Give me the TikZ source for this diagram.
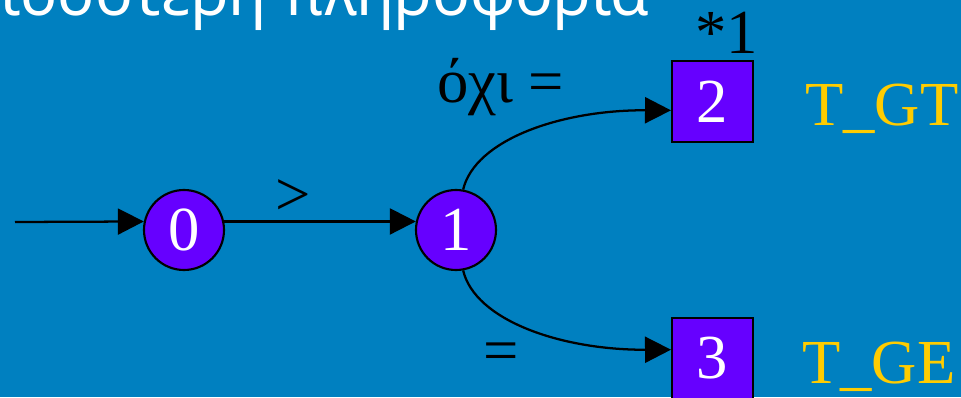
\documentclass[tikz,border=0pt]{standalone}
\usepackage{fontspec}
\setmainfont{Liberation Serif}
\newfontfamily\titlefont{Noto Sans}
\usetikzlibrary{arrows.meta,calc}
\definecolor{bg}{RGB}{0,128,192}
\definecolor{nodefill}{RGB}{102,0,255}
\definecolor{ylw}{RGB}{255,204,0}
\begin{document}
\begin{tikzpicture}[x=0.75pt,y=-0.75pt,
  big/.style={font=\fontsize{47}{50}\selectfont},
  state/.style={circle,draw=black,line width=1.6pt,fill=nodefill,minimum size=60pt,inner sep=0pt,text=white,big},
  final/.style={rectangle,draw=black,line width=1.5pt,fill=nodefill,minimum size=60.75pt,inner sep=0pt,text=white,big},
  edge/.style={line width=1.7pt,-{Triangle[length=19.5pt,width=19.5pt]}},
  lbl/.style={text=black,big,inner sep=0pt},
  tag/.style={text=ylw,big,inner sep=0pt,anchor=base west}]
\path[use as bounding box] (0,0) rectangle (961,397);
\clip (0,0) rectangle (961,397);
\fill[bg] (0,0) rectangle (961,397);
\node[text=white,font=\titlefont\fontsize{47}{50}\selectfont,anchor=base east,inner sep=0pt] (title) at (650,15) {περισσότερη πληροφορία};
\node[state] (n0) at (184,230) {0};
\node[state] (n1) at (456,230) {1};
\node[final] (n2) at (712.5,101.5) {2};
\node[final] (n3) at (712.5,358.5) {3};
\coordinate (s) at (15,222);
\draw[edge] (s) -- (n0.168);
\draw[edge] (n0.12) -- (n1.168);
\draw[edge] (n1.80) .. controls (475,140) and (560,110) .. (n2.192);
\draw[edge] (n1.280) .. controls (475,320) and (560,350) .. (n3.168);
\node[lbl] (lgt) at (293.5,197.5) {>};
\node[lbl,anchor=base west] (lnot) at (437,102) {όχι =};
\node[lbl,anchor=base west] (lstar) at (695,53) {*1};
\node[lbl] (leq) at (501,357) {=};
\node[tag] (tgt) at (805,125) {T\_GT};
\node[tag] (tge) at (802,383) {T\_GE};
\end{tikzpicture}
\end{document}
